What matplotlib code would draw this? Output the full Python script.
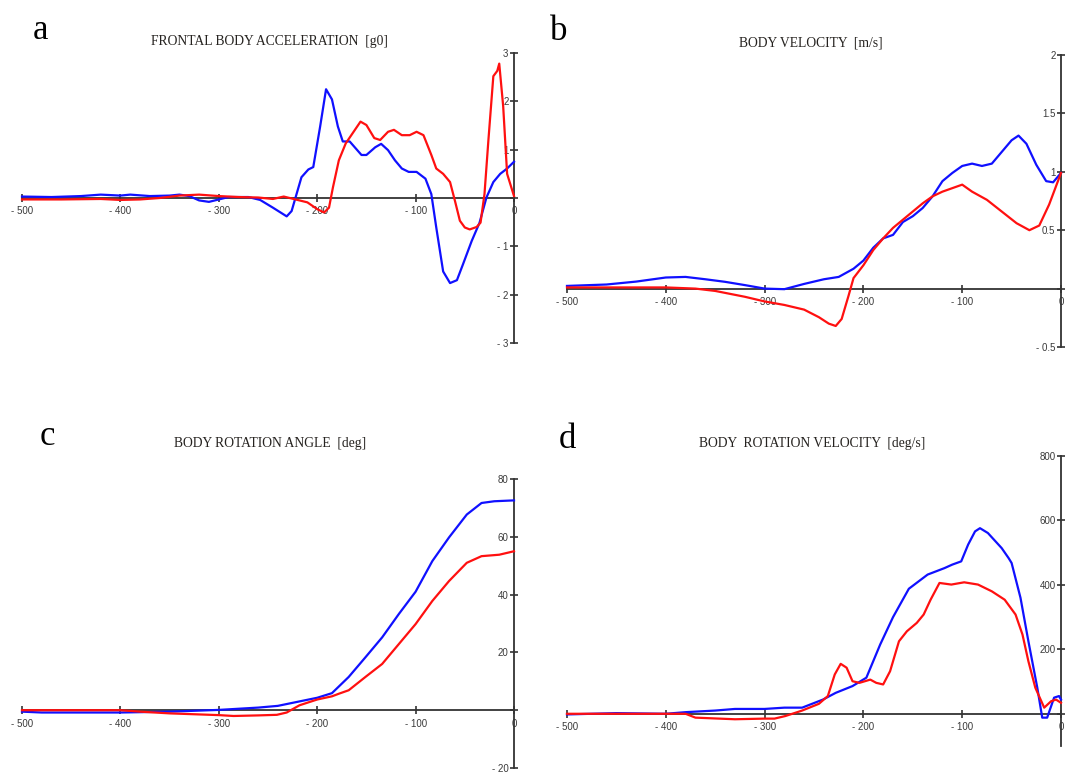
import matplotlib
matplotlib.use("Agg")
import matplotlib.pyplot as plt

# ---------------- data ----------------
x_ticks = [-500, -400, -300, -200, -100, 0]
x_tick_labels = ["- 500", "- 400", "- 300", "- 200", "- 100", "0"]

titles = ["FRONTAL BODY ACCELERATION  [g0]", "BODY VELOCITY  [m/s]",
          "BODY ROTATION ANGLE  [deg]", "BODY  ROTATION VELOCITY  [deg/s]"]
panel_letters = ["a", "b", "c", "d"]

# panel a: frontal body acceleration [g0]
a_blue_t = [-500, -470, -440, -420, -400, -390, -370, -350, -340, -330, -320, -310, -300, -290, -270,
            -258, -245, -231, -226, -221, -216, -209, -204, -197, -191, -185, -179, -174, -167, -155,
            -150, -141, -135, -128, -121, -114, -107, -99, -90, -84, -79, -72, -65, -58, -52, -43,
            -35, -28, -21, -14, -7, 0]
a_blue_v = [0.03, 0.02, 0.04, 0.07, 0.05, 0.07, 0.04, 0.05, 0.07, 0.04, -0.05, -0.08, -0.03, 0.02, 0.02,
            -0.04, -0.2, -0.38, -0.27, 0.08, 0.43, 0.59, 0.64, 1.48, 2.25, 2.04, 1.48, 1.17, 1.17, 0.89,
            0.89, 1.05, 1.12, 0.99, 0.78, 0.61, 0.54, 0.54, 0.40, 0.08, -0.61, -1.52, -1.76, -1.70, -1.38, -0.89,
            -0.51, 0.01, 0.33, 0.50, 0.61, 0.75]
a_red_t = [-500, -460, -420, -400, -380, -360, -340, -320, -300, -280, -260, -245, -234, -220, -210,
           -200, -193, -188, -184, -178, -171, -164, -156, -150, -142, -136, -128, -122, -114, -106,
           -99, -92, -84, -79, -72, -65, -60, -55, -50, -45, -38, -34, -30, -26, -21, -17, -15, -11, -7, 0]
a_red_v = [-0.03, -0.03, -0.02, -0.04, -0.03, 0.0, 0.05, 0.07, 0.04, 0.02, 0.01, -0.02, 0.03, -0.04, -0.09,
           -0.23, -0.30, -0.2, 0.22, 0.78, 1.13, 1.34, 1.58, 1.51, 1.24, 1.20, 1.37, 1.41, 1.30, 1.30,
           1.37, 1.30, 0.89, 0.61, 0.50, 0.33, -0.06, -0.47, -0.61, -0.65, -0.60, -0.51, 0.08, 1.20, 2.52, 2.63, 2.78, 1.90, 0.50, 0.04]
a_yticks = [-3, -2, -1, 0, 1, 2, 3]
a_ylabels = ["- 3", "- 2", "- 1", "", "1", "2", "3"]

# panel b: body velocity [m/s]
b_blue_t = [-500, -460, -430, -400, -380, -360, -340, -320, -300, -280, -260, -240, -225, -210, -200,
            -190, -180, -170, -160, -150, -140, -130, -120, -110, -100, -90, -80, -70, -60, -50, -43,
            -35, -25, -15, -8, 0]
b_blue_v = [0.023, 0.035, 0.06, 0.095, 0.10, 0.08, 0.058, 0.03, 0.0, -0.005, 0.04, 0.08, 0.10, 0.17, 0.24,
            0.35, 0.43, 0.46, 0.57, 0.62, 0.69, 0.79, 0.92, 0.99, 1.05, 1.07, 1.05, 1.07, 1.17, 1.27, 1.31,
            1.24, 1.06, 0.92, 0.91, 0.99]
b_red_t = [-500, -400, -370, -350, -320, -300, -280, -260, -245, -235, -228, -222, -215, -210, -200,
           -190, -180, -170, -160, -150, -140, -130, -120, -110, -100, -90, -75, -60, -45, -32, -22, -12, 0]
b_red_v = [0.01, 0.01, 0.0, -0.02, -0.07, -0.11, -0.14, -0.18, -0.245, -0.30, -0.32, -0.26, -0.06, 0.09, 0.20,
           0.33, 0.43, 0.52, 0.59, 0.66, 0.73, 0.79, 0.83, 0.86, 0.89, 0.83, 0.76, 0.66, 0.56, 0.50, 0.54, 0.72, 0.99]
b_yticks = [-0.5, 0, 0.5, 1, 1.5, 2]
b_ylabels = ["- 0.5", "", "0.5", "1", "1.5", "2"]

# panel c: body rotation angle [deg]
c_blue_t = [-500, -480, -400, -350, -300, -260, -240, -220, -200, -185, -168, -151, -134, -117, -100,
            -83, -66, -48, -33, -20, 0]
c_blue_v = [-0.5, -0.8, -0.8, -0.5, 0.1, 0.9, 1.5, 2.9, 4.3, 5.9, 11.5, 18.3, 25.2, 33.3, 41.0,
            51.6, 59.8, 67.7, 71.7, 72.3, 72.6]
c_red_t = [-500, -400, -380, -350, -300, -285, -260, -241, -231, -218, -200, -185, -178, -168, -151,
           -134, -117, -100, -83, -66, -48, -33, -15, 0]
c_red_v = [0.0, 0.0, -0.5, -1.1, -1.7, -2.0, -1.8, -1.6, -0.8, 1.7, 3.7, 4.8, 5.7, 6.9, 11.5,
           16.0, 22.9, 29.8, 37.8, 44.7, 51.0, 53.3, 53.8, 55.0]
c_yticks = [-20, 0, 20, 40, 60, 80]
c_ylabels = ["- 20", "", "20", "40", "60", "80"]

# panel d: body rotation velocity [deg/s]
d_blue_t = [-500, -450, -400, -380, -350, -330, -300, -280, -262, -241, -228, -211, -197, -183, -170,
            -154, -135, -118, -110, -101, -94, -87, -82, -74, -60, -53, -50, -41, -33, -24, -19, -14,
            -7, -2, 0]
d_blue_v = [-2, 2, 0, 5, 10, 15, 15, 19, 19, 44, 65, 86, 112, 215, 300,
            388, 432, 452, 463, 473, 525, 566, 576, 561, 514, 483, 468, 360, 225, 81, -12, -12,
            50, 55, 44]
d_red_t = [-500, -380, -370, -330, -300, -290, -279, -262, -245, -236, -229, -223, -217, -211, -204,
           -193, -187, -180, -173, -164, -156, -146, -139, -132, -123, -111, -98, -84, -70, -57,
           -46, -39, -33, -26, -17, -10, -5, 0]
d_red_v = [0, 0, -12, -17, -15, -15, -7, 10, 31, 55, 122, 155, 143, 101, 96,
           106, 96, 91, 132, 225, 256, 282, 308, 354, 406, 401, 408, 401, 380, 354,
           308, 246, 163, 81, 19, 39, 44, 34]
d_yticks = [0, 200, 400, 600, 800]
d_ylabels = ["", "200", "400", "600", "800"]

# ---------------- figure ----------------
W, H = 1067, 776
fig = plt.figure(figsize=(W / 100, H / 100), dpi=100)
fig.patch.set_facecolor("white")

SERIF = ["Liberation Serif", "DejaVu Serif"]
SANS = ["Liberation Sans", "DejaVu Sans"]
AX_COL = "#333333"
LBL_COL = "#3a3a3a"


def rect(x0, x1, y_top, y_bot):
    return [x0 / W, 1 - y_bot / H, (x1 - x0) / W, (y_bot - y_top) / H]


def make_panel(r, ylim, yticks, ylabels, blue, red):
    ax = fig.add_axes(r)
    ax.patch.set_visible(False)
    ax.set_xlim(-500, 0)
    ax.set_ylim(*ylim)
    for s in ("top", "right"):
        ax.spines[s].set_visible(False)
    ax.spines["left"].set_position(("data", 0))
    ax.spines["bottom"].set_position(("data", 0))
    for s in ("left", "bottom"):
        ax.spines[s].set_color(AX_COL)
        ax.spines[s].set_linewidth(1.3)
    ax.set_xticks(x_ticks)
    ax.set_xticklabels(x_tick_labels, fontfamily=SANS, fontsize=7, color=LBL_COL)
    ax.set_yticks(yticks)
    ax.set_yticklabels(ylabels, fontfamily=SANS, fontsize=7, color=LBL_COL)
    ax.tick_params(axis="both", direction="inout", length=6, width=1.2, color=AX_COL)
    ax.tick_params(axis="x", pad=3)
    ax.tick_params(axis="y", pad=1)
    ax.plot(blue[0], blue[1], color="#1010ff", lw=1.6, clip_on=False, zorder=3)
    ax.plot(red[0], red[1], color="#ff1010", lw=1.6, clip_on=False, zorder=3)
    return ax


make_panel(rect(22, 514, 53, 343), (-3, 3), a_yticks, a_ylabels,
           (a_blue_t, a_blue_v), (a_red_t, a_red_v))
make_panel(rect(567, 1061, 55, 347), (-0.5, 2), b_yticks, b_ylabels,
           (b_blue_t, b_blue_v), (b_red_t, b_red_v))
make_panel(rect(22, 514, 479, 768), (-20, 80), c_yticks, c_ylabels,
           (c_blue_t, c_blue_v), (c_red_t, c_red_v))
make_panel(rect(567, 1061, 456, 746), (-100, 800), d_yticks, d_ylabels,
           (d_blue_t, d_blue_v), (d_red_t, d_red_v))

# titles
title_pos = [(269, 42), (811, 43), (270, 443), (812, 444)]
for txt, (x, y) in zip(titles, title_pos):
    fig.text(x / W, 1 - y / H, txt, ha="center", va="center", fontsize=9.8,
             family=SERIF, color="#262320")

# panel letters
letter_pos = [(40, 39), (559, 40), (47, 445), (567, 448)]
for txt, (x, y) in zip(panel_letters, letter_pos):
    fig.text(x / W, 1 - y / H, txt, ha="center", va="baseline", fontsize=25,
             family=SERIF, color="black")

fig.savefig("out.png", dpi=100, facecolor="white")
